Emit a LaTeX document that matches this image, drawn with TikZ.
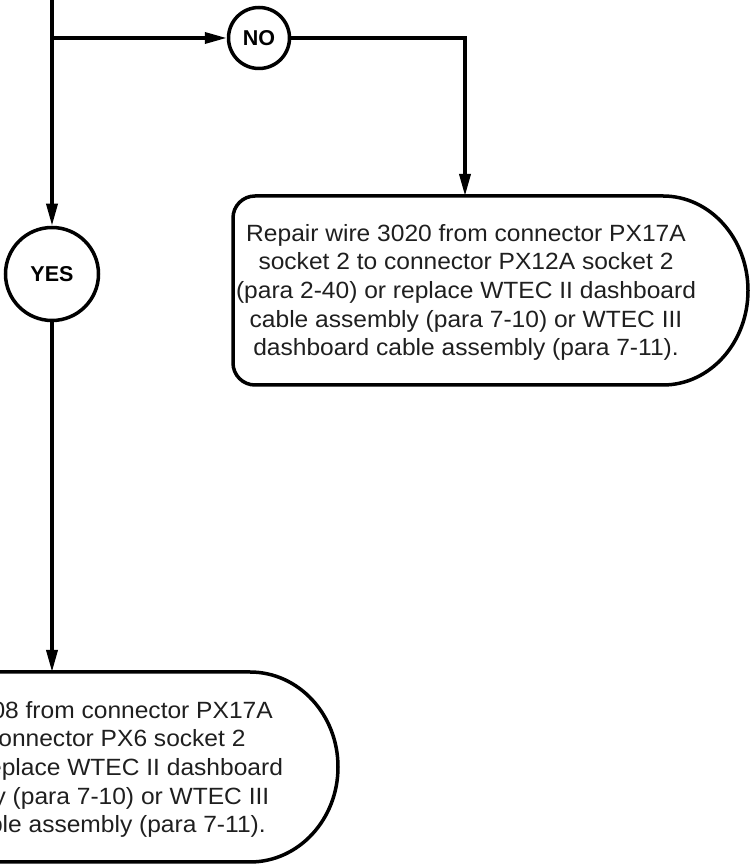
\documentclass[tikz,border=0pt]{standalone}
\usepackage{fontspec}
\setmainfont{Liberation Sans}
\newfontfamily\boxfont[FakeStretch=1.045]{Liberation Sans}
\usetikzlibrary{arrows.meta}
\begin{document}
\begin{tikzpicture}[x=1pt,y=1pt,
  line width=3.5pt,
  flow/.style={-{Triangle[length=22pt,width=11pt]}},
  answer/.style={circle,draw,inner sep=0pt,font=\fontsize{21.5}{24}\selectfont\bfseries},
  boxtext/.style={align=center,inner sep=0pt,font=\boxfont\fontsize{23.5}{28.7}\selectfont,text=black!88}]
\useasboundingbox (0,0) rectangle (752,865);
% nodes
\coordinate (top) at (52,865);
\coordinate (branch) at (52,827);
\node[answer,minimum size=61pt] (no) at (259,827) {NO};
\node[answer,minimum size=93pt] (yes) at (52,591) {YES};
\coordinate (corner) at (465,827);
\coordinate (b1top) at (465,669);
\coordinate (b2top) at (52,193);
% top box outline
\draw (255,669) -- (663,669) arc[start angle=90,end angle=-90,x radius=85,y radius=94.5]
  -- (255,480) arc[start angle=270,end angle=180,radius=22]
  -- (233,647) arc[start angle=180,end angle=90,radius=22] -- cycle;
\node[boxtext] (repair1) at (466,572.5) {Repair wire 3020 from connector PX17A\\
socket 2 to connector PX12A socket 2\\
(para 2-40) or replace WTEC II dashboard\\
cable assembly (para 7-10) or WTEC III\\
dashboard cable assembly (para 7-11).};
% bottom box outline
\begin{scope}
\clip (0,0) rectangle (752,865);
\draw (-40,193) -- (250,193) arc[start angle=90,end angle=-90,x radius=88,y radius=95] -- (-40,3);
\node[boxtext] (repair2) at (53,95.5) {Repair wire 3008 from connector PX17A\\
socket 2 to connector PX6 socket 2\\
(para 2-40) or replace WTEC II dashboard\\
cable assembly (para 7-10) or WTEC III\\
dashboard cable assembly (para 7-11).};
\end{scope}
% connectors
\draw[flow] (top) -- (yes);
\draw[flow] (branch) -- (no);
\draw[flow] (no) -- (corner) -- (b1top);
\draw[flow] (yes) -- (b2top);
\end{tikzpicture}
\end{document}
